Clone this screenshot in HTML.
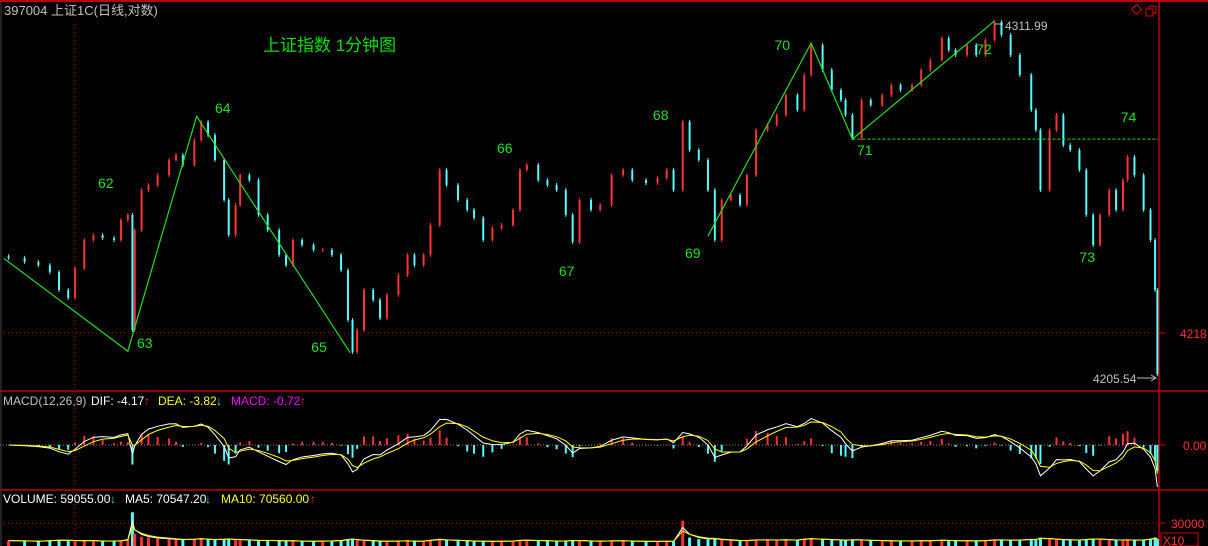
<!DOCTYPE html>
<html><head><meta charset="utf-8">
<style>
html,body{margin:0;padding:0;background:#000;width:1208px;height:546px;overflow:hidden}
svg{display:block}
text{font-family:"Liberation Sans","Noto Sans CJK SC",sans-serif}
</style></head>
<body>
<svg id="chart" width="1208" height="546" xmlns="http://www.w3.org/2000/svg">
<rect x="0" y="0" width="1208" height="546" fill="#000"/>
<g id="grid">
<line x1="0" y1="1" x2="1208" y2="1" stroke="#c00000" stroke-width="2"/>
<line x1="0" y1="391" x2="1208" y2="391" stroke="#c00000" stroke-width="1.5"/>
<line x1="0" y1="490" x2="1208" y2="490" stroke="#c00000" stroke-width="1.5"/>
<line x1="1159" y1="0" x2="1159" y2="546" stroke="#c00000" stroke-width="1.5"/>
<line x1="1" y1="0" x2="1" y2="546" stroke="#444" stroke-width="1"/>
<line x1="75" y1="20" x2="75" y2="546" stroke="#a00000" stroke-dasharray="1,3"/>
<line x1="0" y1="333" x2="1159" y2="333" stroke="#a00000" stroke-dasharray="1,3"/>
<line x1="0" y1="445" x2="1159" y2="445" stroke="#a08080" stroke-dasharray="1,2"/>
<line x1="0" y1="523" x2="1159" y2="523" stroke="#a00000" stroke-dasharray="1,3"/>
<line x1="1159" y1="333" x2="1166" y2="333" stroke="#c00000"/>
<line x1="1159" y1="445" x2="1166" y2="445" stroke="#c00000"/>
<line x1="1159" y1="523" x2="1166" y2="523" stroke="#c00000"/>
</g>
<text x="4" y="15" fill="#c0c0c0" font-size="13">397004 上证1C(日线,对数)</text>
<text x="263" y="51" fill="#00e000" font-size="17">上证指数 1分钟图</text>
<g>
<rect x="1133" y="6" width="7" height="7" fill="none" stroke="#e00000" transform="rotate(45 1136.5 9.5)"/>
<rect x="1149" y="6" width="7" height="7" fill="none" stroke="#e00000"/>
<rect x="1146" y="9" width="7" height="7" fill="#000" stroke="#e00000"/>
</g>
<g id="price"></g>
<g id="wave"></g>
<g id="macd"></g>
<g id="vol"></g>
<text x="1180" y="338" fill="#ff3030" font-size="12">4218</text>
<text x="1183" y="450" fill="#ff3030" font-size="12">0.00</text>
<text x="1171" y="528" fill="#ff3030" font-size="12">30000</text>
<rect x="1161" y="533" width="37" height="13" fill="none" stroke="#e00000"/>
<text x="1163" y="545" fill="#ff3030" font-size="12">X10</text>
<text x="1005" y="30" fill="#c0c0c0" font-size="12">4311.99</text>
<line x1="995" y1="24" x2="1003" y2="24" stroke="#c0c0c0"/>
<text x="1093" y="383" fill="#c0c0c0" font-size="12">4205.54</text>
<line x1="1137" y1="378" x2="1156" y2="378" stroke="#c0c0c0"/>
<path d="M1151,375 L1156,378 L1151,381" fill="none" stroke="#c0c0c0"/>
<g font-size="12">
<text x="3" y="405" fill="#c0c0c0">MACD(12,26,9)</text>
<text x="91" y="405" fill="#fff">DIF: -4.17</text><text x="144" y="405" fill="#ff3030">↑</text>
<text x="158" y="405" fill="#ffff00">DEA: -3.82</text><text x="216" y="405" fill="#40e0e0">↓</text>
<text x="231" y="405" fill="#ff00ff">MACD: -0.72</text><text x="300" y="405" fill="#ff3030">↑</text>
</g>
<g font-size="12">
<text x="3" y="503" fill="#fff">VOLUME: 59055.00</text><text x="110" y="503" fill="#40e0e0">↓</text>
<text x="125" y="503" fill="#fff">MA5: 70547.20</text><text x="205" y="503" fill="#40e0e0">↓</text>
<text x="221" y="503" fill="#ffff00">MA10: 70560.00</text><text x="310" y="503" fill="#ff3030">↑</text>
</g>
</svg>
<script>
const minutes=[2,9,15,20,24,28,31,35,39,43,48,51,54,56,57,60,63,67,72,75,78,83,86,89,92,96,98,101,103,107,111,115,120,123,126,130,135,139,143,147,150,152,154,157,161,164,167,172,176,179,183,186,190,193,198,202,205,209,213,217,222,225,228,233,237,241,245,248,251,256,260,265,270,274,280,285,289,292,296,299,303,307,310,313,317,321,324,328,333,337,341,346,349,352,357,361,365,367,370,374,378,383,387,391,396,400,404,409,412,415,420,424,428,432,435,439,443,448,450,452,456,459,462,465,469,472,475,478,482,485,488,490,493,497,500,502,503];
const closes=[4240.7,4239.5,4238.5,4236.4,4231.0,4228.6,4237.6,4246.1,4247.6,4246.7,4246.1,4252.1,4253.7,4218.9,4249.1,4261.2,4262.7,4265.7,4270.3,4271.8,4268.8,4276.3,4281.8,4277.8,4270.3,4258.2,4247.6,4256.7,4265.7,4264.2,4253.7,4249.1,4241.6,4238.5,4246.1,4244.6,4243.1,4243.1,4241.6,4237.0,4221.9,4212.3,4218.9,4231.0,4228.0,4222.5,4229.5,4235.5,4241.6,4238.5,4241.6,4250.6,4267.3,4262.7,4258.2,4255.2,4252.8,4246.1,4249.7,4250.6,4255.2,4267.3,4268.8,4264.2,4262.7,4261.2,4253.7,4245.5,4258.2,4255.2,4256.7,4265.7,4267.3,4264.2,4263.3,4264.8,4267.3,4261.2,4281.8,4273.3,4270.3,4261.2,4246.1,4258.2,4259.7,4256.7,4265.7,4279.3,4280.9,4283.9,4289.9,4285.4,4296.0,4305.0,4297.5,4291.4,4288.4,4283.9,4276.9,4288.4,4286.9,4289.9,4292.9,4291.4,4292.9,4297.5,4300.5,4307.1,4303.5,4302.0,4305.0,4302.0,4306.5,4311.99,4308.1,4302.0,4296.0,4285.4,4279.3,4261.2,4279.3,4283.9,4274.8,4273.3,4267.3,4253.7,4244.6,4253.7,4261.2,4255.2,4264.2,4271.2,4265.7,4255.2,4246.1,4231.0,4205.54];
const volumes=[70000,65000,60000,72000,80000,75000,70000,68000,72000,60000,65000,70000,90000,440000,160000,120000,110000,95000,90000,85000,80000,90000,100000,85000,80000,90000,95000,80000,85000,75000,70000,72000,68000,65000,70000,62000,60000,65000,68000,75000,90000,95000,80000,70000,65000,60000,62000,65000,70000,60000,65000,80000,95000,75000,70000,65000,62000,60000,60000,62000,65000,80000,78000,70000,66000,62000,65000,75000,72000,62000,60000,70000,68000,62000,58000,60000,62000,60000,330000,110000,90000,85000,95000,80000,72000,66000,70000,85000,80000,78000,82000,75000,95000,100000,85000,80000,75000,72000,85000,80000,70000,68000,66000,64000,66000,70000,68000,80000,72000,66000,68000,65000,72000,85000,80000,75000,78000,90000,85000,110000,95000,85000,80000,78000,75000,90000,95000,90000,80000,75000,78000,80000,75000,80000,95000,110000,90000];
const waveMinutes=[0,54,84,151];
const wavePrices=[4240.5,4212.5,4283.5,4212.0];
const wave2Minutes=[307,352,370,432];
const wave2Prices=[4247.3,4305.6,4276.6,4312.3];
const waveLabels=["62","63","64","65","66","67","68","69","70","71","72","73","74"];
const labelMinutes=[41,58,92,134,215,242,283,297,336,372,424,469,487];
const labelPrices=[4261.8,4213.5,4284.5,4212.3,4272.4,4235.2,4282.4,4240.7,4303.5,4271.8,4302.3,4239.5,4281.8];

const NS="http://www.w3.org/2000/svg";
const xS=m=>4+m*2.293;
const yP=p=>333-(p-4218)/0.3022;
const yV=v=>546-v*23/300000;
function mk(tag,attrs,parent){const e=document.createElementNS(NS,tag);for(const k in attrs)e.setAttribute(k,attrs[k]);parent.appendChild(e);return e;}
const gp=document.getElementById('price');


for(let i=0;i<closes.length;i++){
  const o=i?closes[i-1]:closes[0]+0.5, c=closes[i];
  const up=c>=o, col=up?'#ff3232':'#54fcfc';
  const x=xS(minutes[i]);
  const y1=yP(Math.max(o,c)), y2=yP(Math.min(o,c));
  const r=mk('rect',{x:x-1,y:y1,width:2,height:Math.max(1,y2-y1),fill:col},gp);
  
  
  const w=mk('line',{x1:x,y1:y1-2,x2:x,y2:y2+2,stroke:col},gp);
  
  
}
const gw=document.getElementById('wave');
function poly(ms,ps,name){const l=mk('polyline',{points:ms.map((m,i)=>xS(m)+','+yP(ps[i])).join(' '),fill:'none',stroke:'#20e020','stroke-width':1.2},gw);

}
poly(waveMinutes,wavePrices,'wave-line-62-65');
poly(wave2Minutes,wave2Prices,'wave-line-69-72');
const dl=mk('line',{x1:xS(370),y1:yP(4276.6),x2:1158,y2:yP(4276.6),stroke:'#20e020','stroke-dasharray':'3,2'},gw);


waveLabels.forEach((t,i)=>{const e=mk('text',{x:xS(labelMinutes[i]),y:yP(labelPrices[i]),fill:'#20e020','font-size':14},gw);e.textContent=t;

});
// MACD
function ema(a,n){const k=2/(n+1);let r=[],p=a[0];a.forEach(v=>{p=v*k+p*(1-k);r.push(p);});return r;}
const e1=ema(closes,4),e2=ema(closes,8);
const dif=e1.map((v,i)=>v-e2[i]);const dea=ema(dif,3);
const mx=Math.max(...dif.map(Math.abs));
const yM=v=>445-v*42/mx;
const gm=document.getElementById('macd');


for(let i=0;i<dif.length;i++){const h=(dif[i]-dea[i])*2;const x=xS(minutes[i]);
const b=mk('line',{x1:x,y1:445,x2:x,y2:yM(h),stroke:h>=0?'#ff3232':'#54fcfc','stroke-width':2},gm);

}
const ld=mk('polyline',{points:dif.map((v,i)=>xS(minutes[i])+','+yM(v)).join(' '),fill:'none',stroke:'#fff'},gm);


const le=mk('polyline',{points:dea.map((v,i)=>xS(minutes[i])+','+yM(v)).join(' '),fill:'none',stroke:'#ffff00'},gm);


// volume
const gv=document.getElementById('vol');


for(let i=0;i<volumes.length;i++){const up=i===0||closes[i]>=closes[i-1];const x=xS(minutes[i]);
const b=mk('rect',{x:x-1.5,y:yV(volumes[i]),width:3,height:546-yV(volumes[i]),fill:up?'#ff3232':'#54fcfc'},gv);

}
const ma5=ema(volumes,2),ma10=ema(volumes,3);
const m5=mk('polyline',{points:ma5.map((v,i)=>xS(minutes[i])+','+yV(v)).join(' '),fill:'none',stroke:'#fff'},gv);


const m10=mk('polyline',{points:ma10.map((v,i)=>xS(minutes[i])+','+yV(v)).join(' '),fill:'none',stroke:'#ffff00'},gv);


</script>
</body></html>
